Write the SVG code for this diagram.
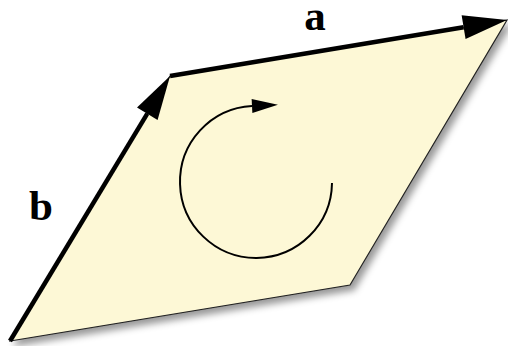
<svg xmlns="http://www.w3.org/2000/svg" width="508" height="346" viewBox="0 0 508 346">
<defs>
<style>
.vec{stroke:#000;stroke-width:4.5;fill:none}
.lbl{font-family:'Liberation Serif','DejaVu Serif','Times New Roman',serif;font-weight:700;font-size:43px;fill:#000}
</style>
<filter id="sh" x="-10%" y="-10%" width="130%" height="130%">
<feDropShadow dx="4" dy="5" stdDeviation="3.5" flood-color="#000" flood-opacity="0.4"/>
</filter>
<marker id="big" markerUnits="userSpaceOnUse" markerWidth="46" markerHeight="26" refX="0" refY="12" orient="auto" overflow="visible">
<path d="M0,0 L44,12 L0,24 z" fill="#000"/>
</marker>
<marker id="small" markerUnits="userSpaceOnUse" markerWidth="28" markerHeight="16" refX="0" refY="7" orient="auto" overflow="visible">
<path d="M0,0 L26,7 L0,14 z" fill="#000"/>
</marker>
</defs>
<g id="plane">
<polygon points="10,341 170,76 507,20 350,285" fill="#fdf8d6" stroke="#222" stroke-width="1.2" filter="url(#sh)"/>
</g>
<g id="connectors">
<line class="vec" x1="10" y1="341" x2="147.3" y2="113.7" marker-end="url(#big)"/>
<line class="vec" x1="170" y1="76" x2="463.6" y2="27.2" marker-end="url(#big)"/>
<path d="M332,183 A76,76 0 1 1 252,106" fill="none" stroke="#000" stroke-width="2" marker-end="url(#small)"/>
</g>
<g id="labels">
<text class="lbl" x="315" y="30" text-anchor="middle">a</text>
<text class="lbl" x="41" y="220" text-anchor="middle">b</text>
</g>
</svg>
